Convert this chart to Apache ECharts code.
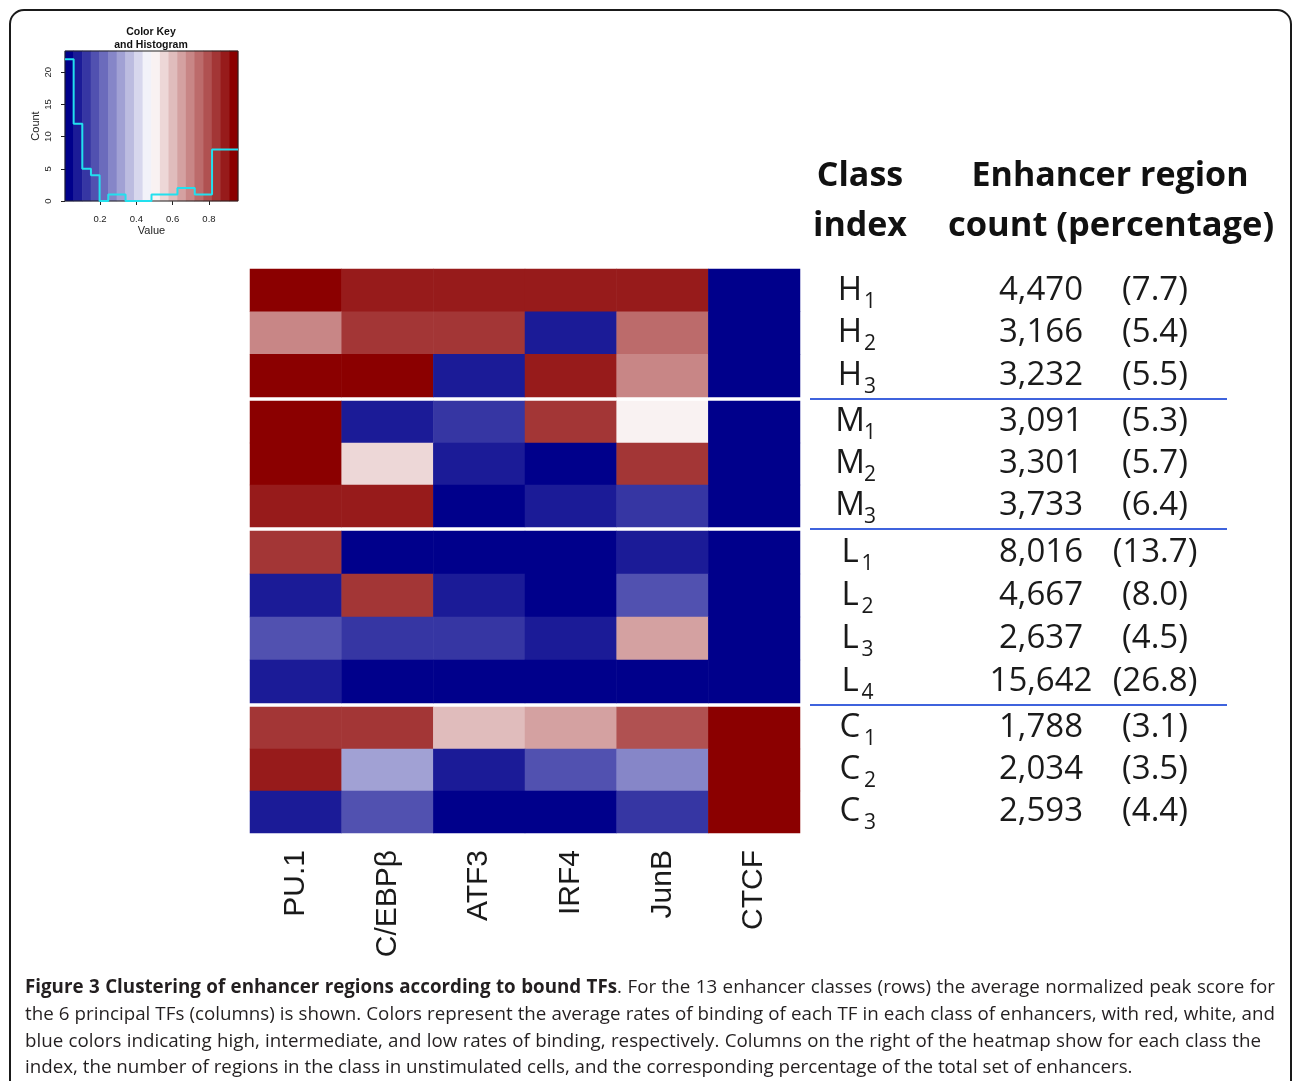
<!DOCTYPE html>
<html><head><meta charset="utf-8">
<script src="https://cdn.jsdelivr.net/npm/echarts@6/dist/echarts.min.js"></script>
<style>html,body{margin:0;padding:0;background:#fff}#c{width:1292px;height:1081px}</style>
</head><body><div id="c"></div>
<script>
// ---------------- data ----------------
const tfNames = ['PU.1', 'C/EBPβ', 'ATF3', 'IRF4', 'JunB', 'CTCF'];
const classLetters = ['H','H','H','M','M','M','L','L','L','L','C','C','C'];
const classSubs    = ['1','2','3','1','2','3','1','2','3','4','1','2','3'];
const regionCounts = ['4,470','3,166','3,232','3,091','3,301','3,733','8,016','4,667','2,637','15,642','1,788','2,034','2,593'];
const regionPercents = ['(7.7)','(5.4)','(5.5)','(5.3)','(5.7)','(6.4)','(13.7)','(8.0)','(4.5)','(26.8)','(3.1)','(3.5)','(4.4)'];
const groupSizes = [3, 3, 4, 3];
// average normalized peak score, rows = classes, columns = TFs
const rowValues = [
  [0.94, 0.89, 0.88, 0.89, 0.88, 0.03],
  [0.70, 0.84, 0.84, 0.08, 0.745, 0.02],
  [0.94, 0.93, 0.08, 0.89, 0.70, 0.03],
  [0.94, 0.08, 0.13, 0.84, 0.51, 0.02],
  [0.95, 0.555, 0.08, 0.03, 0.84, 0.03],
  [0.89, 0.89, 0.03, 0.07, 0.125, 0.02],
  [0.84, 0.03, 0.02, 0.03, 0.08, 0.03],
  [0.08, 0.84, 0.07, 0.03, 0.175, 0.02],
  [0.175, 0.125, 0.13, 0.08, 0.65, 0.03],
  [0.08, 0.03, 0.02, 0.03, 0.04, 0.02],
  [0.84, 0.84, 0.60, 0.65, 0.79, 0.94],
  [0.89, 0.32, 0.08, 0.175, 0.27, 0.95],
  [0.08, 0.175, 0.03, 0.02, 0.125, 0.94]
];
// color key / histogram
const keyRange = [0.007, 0.96];
const keyBinCount = 20;
const histCounts = [22, 12, 5, 4, 0, 1, 1, 0, 0, 0, 1, 1, 1, 2, 2, 1, 1, 8, 8, 8];
const keyXTicks = [0.2, 0.4, 0.6, 0.8];
const keyYTicks = [0, 5, 10, 15, 20];
const keyYMax = 23.3;

// ---------------- styling helpers ----------------
function ramp(t) {
  const lo = [0, 0, 139], mid = [255, 255, 255], hi = [139, 0, 0];
  let a, b, s;
  if (t <= 0.5) { a = lo; b = mid; s = t * 2; } else { a = mid; b = hi; s = (t - 0.5) * 2; }
  const c = a.map((v, i) => Math.round(v + (b[i] - v) * s));
  return 'rgb(' + c.join(',') + ')';
}
const palette = [];
for (let k = 0; k < keyBinCount; k++) palette.push(ramp(k / (keyBinCount - 1)));
const breaks = [];
for (let k = 0; k <= keyBinCount; k++) breaks.push(keyRange[0] + (keyRange[1] - keyRange[0]) * k / keyBinCount);
const pieces = palette.map((col, k) => (k === keyBinCount - 1
  ? { gte: breaks[k], lte: breaks[k + 1] + 1, color: col }
  : { gte: breaks[k], lt: breaks[k + 1], color: col }));

// ---------------- layout ----------------
const HM_LEFT = 250, HM_WIDTH = 550;
const gridTops = [269, 401, 531, 707];
const gridHeights = [128, 126, 172, 126];
const FONT = '"Open Sans", "Liberation Sans", sans-serif';
const RFONT = '"Liberation Sans", Arial, sans-serif';

const grids = [], xAxes = [], yAxes = [], series = [];
let rowStart = 0;
groupSizes.forEach((n, g) => {
  grids.push({ left: HM_LEFT, top: gridTops[g], width: HM_WIDTH, height: gridHeights[g] });
  const rowIdx = [];
  for (let r = 0; r < n; r++) rowIdx.push(rowStart + r);
  xAxes.push({
    type: 'category', gridIndex: g, data: tfNames, show: g === groupSizes.length - 1,
    axisLine: { show: false }, axisTick: { show: false }, splitLine: { show: false },
    axisLabel: { rotate: 90, interval: 0, margin: 17, fontSize: 30, fontFamily: RFONT, color: '#1a1a1a' }
  });
  yAxes.push({
    type: 'category', gridIndex: g, inverse: true, position: 'right',
    data: rowIdx.map(String),
    axisLine: { show: false }, axisTick: { show: false }, splitLine: { show: false },
    axisLabel: {
      margin: 34, align: 'left', interval: 0,
      formatter: function (v) {
        const i = +v;
        const tight = classLetters[i] === 'L';
        return '{i|' + classLetters[i] + '}{' + (tight ? 'sL' : 's') + '|' + classSubs[i] + '}{' + (tight ? 'gL' : 'g') + '| }{c|' + regionCounts[i] + '}{p|' + regionPercents[i] + '}';
      },
      rich: {
        i: { fontSize: 33, fontFamily: FONT, color: '#1a1a1a', width: 32, align: 'right', lineHeight: 44 },
        s: { fontSize: 21, fontFamily: FONT, color: '#1a1a1a', width: 8, align: 'right', lineHeight: 20, verticalAlign: 'bottom' },
        sL: { fontSize: 21, fontFamily: FONT, color: '#1a1a1a', width: 3, align: 'right', lineHeight: 20, verticalAlign: 'bottom' },
        g: { fontSize: 10, width: 110, lineHeight: 44 },
        gL: { fontSize: 10, width: 115, lineHeight: 44 },
        c: { fontSize: 33, fontFamily: FONT, color: '#1a1a1a', width: 114, align: 'center', lineHeight: 44 },
        p: { fontSize: 33, fontFamily: FONT, color: '#1a1a1a', width: 114, align: 'center', lineHeight: 44 }
      }
    }
  });
  const data = [];
  rowIdx.forEach((ri, lr) => rowValues[ri].forEach((v, c) => data.push([c, lr, v])));
  series.push({
    type: 'heatmap', xAxisIndex: g, yAxisIndex: g, data: data,
    emphasis: { disabled: true }, itemStyle: { borderWidth: 0 }, progressive: 0
  });
  rowStart += n;
});

// color key band grid (index 4) and histogram grid (index 5)
const KEY = { left: 65, top: 51, width: 173, height: 150 };
grids.push({ left: KEY.left, top: KEY.top, width: KEY.width, height: KEY.height });
grids.push({ left: KEY.left, top: KEY.top, width: KEY.width, height: KEY.height, show: true,
  borderColor: '#222', borderWidth: 1, backgroundColor: 'transparent', z: 5 });
const bandCats = palette.map((_, k) => String(k));
xAxes.push({ type: 'category', gridIndex: 4, data: bandCats, show: false });
yAxes.push({ type: 'category', gridIndex: 4, data: ['key'], show: false });
series.push({
  type: 'heatmap', xAxisIndex: 4, yAxisIndex: 4,
  data: bandCats.map((_, k) => [k, 0, (breaks[k] + breaks[k + 1]) / 2]),
  emphasis: { disabled: true }, progressive: 0
});
xAxes.push({
  type: 'value', gridIndex: 5, min: keyRange[0], max: keyRange[1],
  axisLine: { show: false }, splitLine: { show: false },
  axisTick: { show: true, customValues: keyXTicks, length: 4, lineStyle: { color: '#222' } },
  axisLabel: { customValues: keyXTicks, fontSize: 9.5, fontFamily: RFONT, color: '#222', margin: 13 },
  name: 'Value', nameLocation: 'middle', nameGap: 24,
  nameTextStyle: { fontSize: 11, fontFamily: RFONT, color: '#222' }
});
yAxes.push({
  type: 'value', gridIndex: 5, min: 0, max: keyYMax,
  axisLine: { show: false }, splitLine: { show: false },
  axisTick: { show: true, customValues: keyYTicks, length: 4, lineStyle: { color: '#222' } },
  axisLabel: { customValues: keyYTicks, rotate: 90, fontSize: 9.5, fontFamily: RFONT, color: '#222', margin: 12 },
  name: 'Count', nameLocation: 'middle', nameGap: 24, nameRotate: 90,
  nameTextStyle: { fontSize: 11, fontFamily: RFONT, color: '#222' }
});
const histLine = breaks.map((b, k) => [b, histCounts[Math.min(k, histCounts.length - 1)]]);
series.push({
  type: 'line', xAxisIndex: 5, yAxisIndex: 5, data: histLine, step: 'end',
  symbol: 'none', z: 10, silent: true,
  lineStyle: { color: '#22E0EE', width: 2 }
});

// ---------------- graphics ----------------
const graphics = [
  { type: 'rect', shape: { x: 10, y: 10, width: 1281, height: 1120, r: 14 },
    style: { fill: 'none', stroke: '#1a1a1a', lineWidth: 2 }, silent: true },
  { type: 'text', x: 151, y: 32, style: { text: 'Color Key', fontSize: 10.5, fontWeight: 'bold', fontFamily: RFONT, fill: '#111', align: 'center', verticalAlign: 'middle' } },
  { type: 'text', x: 151, y: 45, style: { text: 'and Histogram', fontSize: 10.5, fontWeight: 'bold', fontFamily: RFONT, fill: '#111', align: 'center', verticalAlign: 'middle' } },
  { type: 'text', x: 860, y: 176, style: { text: 'Class', fontSize: 34, fontWeight: 'bold', fontFamily: FONT, fill: '#111', align: 'center', verticalAlign: 'middle' } },
  { type: 'text', x: 860, y: 226, style: { text: 'index', fontSize: 34, fontWeight: 'bold', fontFamily: FONT, fill: '#111', align: 'center', verticalAlign: 'middle' } },
  { type: 'text', x: 1110, y: 176, style: { text: 'Enhancer region', fontSize: 34, fontWeight: 'bold', fontFamily: FONT, fill: '#111', align: 'center', verticalAlign: 'middle' } },
  { type: 'text', x: 1111, y: 226, style: { text: 'count (percentage)', fontSize: 34.5, fontWeight: 'bold', fontFamily: FONT, fill: '#111', align: 'center', verticalAlign: 'middle' } }
];
// group separator lines on the right table
[399, 529, 705].forEach(y => graphics.push({
  type: 'line', shape: { x1: 810, y1: y, x2: 1227, y2: y },
  style: { stroke: '#3F63DD', lineWidth: 2 }, silent: true
}));

// caption (justified lines)
const captionLines = [
  { segs: [{ t: 'Figure 3 Clustering of enhancer regions according to bound TFs', b: true }, { t: '. For the 13 enhancer classes (rows) the average normalized peak score for', b: false }], right: 1275 },
  { segs: [{ t: 'the 6 principal TFs (columns) is shown. Colors represent the average rates of binding of each TF in each class of enhancers, with red, white, and', b: false }], right: 1275 },
  { segs: [{ t: 'blue colors indicating high, intermediate, and low rates of binding, respectively. Columns on the right of the heatmap show for each class the', b: false }], right: 1261 },
  { segs: [{ t: 'index, the number of regions in the class in unstimulated cells, and the corresponding percentage of the total set of enhancers.', b: false }], right: null }
];
const captionY = [988, 1015, 1042, 1068];
const CAP_LEFT = 25;
const mctx = document.createElement('canvas').getContext('2d');
function mw(text, bold, fs) {
  mctx.font = (bold ? 'bold ' : '') + fs + 'px ' + FONT;
  return mctx.measureText(text).width;
}
const capFs = Math.max(15, Math.min(21, 18 * (1133 - CAP_LEFT) / mw(captionLines[3].segs[0].t, false, 18)));
captionLines.forEach((line, li) => {
  const words = [];
  line.segs.forEach(seg => {
    seg.t.split(' ').forEach((part, j) => {
      if (!part) return;
      const piece = { t: part, b: seg.b };
      if (j === 0 && words.length && seg.t[0] !== ' ') words[words.length - 1].push(piece);
      else words.push([piece]);
    });
  });
  const widths = words.map(w => w.reduce((s, p) => s + mw(p.t, p.b, capFs), 0));
  const total = widths.reduce((a, b) => a + b, 0);
  const gap = line.right ? (line.right - CAP_LEFT - total) / (words.length - 1) : mw(' ', false, capFs);
  let x = CAP_LEFT;
  words.forEach((w, wi) => {
    let px = x;
    w.forEach(p => {
      graphics.push({ type: 'text', x: px, y: captionY[li], silent: true,
        style: { text: p.t, fontSize: capFs, fontWeight: p.b ? 'bold' : 'normal', fontFamily: FONT, fill: '#231f20', align: 'left', verticalAlign: 'middle' } });
      px += mw(p.t, p.b, capFs);
    });
    x += widths[wi] + gap;
  });
});

const chart = echarts.init(document.getElementById('c'), null, { renderer: 'canvas' });
chart.setOption({
  animation: false,
  backgroundColor: '#fff',
  grid: grids,
  xAxis: xAxes,
  yAxis: yAxes,
  visualMap: { type: 'piecewise', show: false, seriesIndex: [0, 1, 2, 3, 4], dimension: 2, pieces: pieces },
  series: series,
  graphic: graphics
});
</script></body></html>
